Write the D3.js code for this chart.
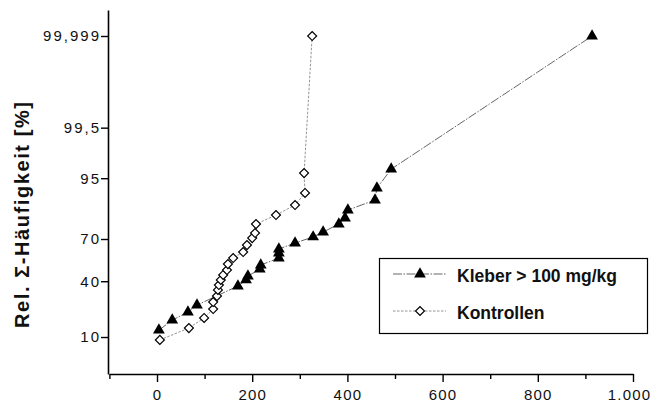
<!DOCTYPE html>
<html>
<head>
<meta charset="utf-8">
<script src="https://cdn.jsdelivr.net/npm/d3@7"></script>
<style>
  body { margin: 0; background: #fff; }
  svg { display: block; font-family: "Liberation Sans", Arial, sans-serif; }
</style>
</head>
<body>
<svg id="chart" width="653" height="403"></svg>
<script>
// Kleber > 100 mg/kg : concentration vs. cumulative percentage
const kleberX = [4, 32, 65, 84, 170, 187, 191, 216, 218, 256, 256, 256, 290, 328, 349, 382, 395, 401, 458, 462, 492, 914];
const kleberP = [12.4, 16.6, 20.6, 24.4, 36.6, 40.9, 43.7, 48.8, 51.8, 56.9, 60.5, 63.3, 67.4, 71.3, 74.3, 78.8, 81.9, 85.5, 89.3, 92.8, 96.5, 99.999];

// Kontrollen
const kontrollenX = [6, 67, 99, 118, 118, 126, 128, 130, 134, 139, 147, 149, 160, 181, 189, 200, 206, 208, 250, 290, 311, 309, 326];
const kontrollenP = [9.1, 13.2, 17.6, 22.2, 26.2, 29.9, 33.9, 37.3, 40.9, 44.5, 48.1, 52.5, 56.9, 61.2, 66.0, 70.6, 73.7, 78.8, 83.3, 87.5, 91.5, 95.9, 99.999];

const xTicks = [0, 200, 400, 600, 800, 1000];
const xMinorTicks = [-100, 100, 300, 500, 700, 900];
const yTicks = [10, 40, 70, 95, 99.5, 99.999];
const seriesNames = ["Kleber > 100 mg/kg", "Kontrollen"];
const yTitle = "Rel. \u03a3-H\u00e4ufigkeit [%]";

// inverse normal cdf (Acklam)
function probit(p) {
  const a = [-39.69683028665376, 220.9460984245205, -275.9285104469687, 138.3577518672690, -30.66479806614716, 2.506628277459239];
  const b = [-54.47609879822406, 161.5858368580409, -155.6989798598866, 66.80131188771972, -13.28068155288572];
  const c = [-0.007784894002430293, -0.3223964580411365, -2.400758277161838, -2.549732539343734, 4.374664141464968, 2.938163982698783];
  const d = [0.007784695709041462, 0.3224671290700398, 2.445134137142996, 3.754408661907416];
  const pl = 0.02425;
  let q, r;
  if (p < pl) {
    q = Math.sqrt(-2 * Math.log(p));
    return (((((c[0]*q+c[1])*q+c[2])*q+c[3])*q+c[4])*q+c[5]) / ((((d[0]*q+d[1])*q+d[2])*q+d[3])*q+1);
  } else if (p <= 1 - pl) {
    q = p - 0.5; r = q * q;
    return (((((a[0]*r+a[1])*r+a[2])*r+a[3])*r+a[4])*r+a[5])*q / (((((b[0]*r+b[1])*r+b[2])*r+b[3])*r+b[4])*r+1);
  } else {
    q = Math.sqrt(-2 * Math.log(1 - p));
    return -(((((c[0]*q+c[1])*q+c[2])*q+c[3])*q+c[4])*q+c[5]) / ((((d[0]*q+d[1])*q+d[2])*q+d[3])*q+1);
  }
}
const pz = (pct) => probit(pct / 100);

const de = d3.formatLocale({ decimal: ",", thousands: ".", grouping: [3], currency: ["", " \u20ac"] });
const fmtX = de.format(",");
const fmtY = de.format("~f");

const svg = d3.select("#chart");

const x = d3.scaleLinear().domain([-100, 1000]).range([109.4, 633]);
const y = d3.scaleLinear().domain([-1.963, 4.744]).range([374, 10]);

// axes
svg.append("g")
  .attr("class", "xaxis")
  .attr("transform", "translate(0,374)")
  .call(d3.axisBottom(x).tickValues(xTicks).tickFormat(fmtX).tickSize(8).tickSizeOuter(0).tickPadding(7));
svg.append("g")
  .attr("transform", "translate(0,374)")
  .call(d3.axisBottom(x).tickValues(xMinorTicks).tickFormat("").tickSize(5).tickSizeOuter(0))
  .select(".domain").remove();

svg.append("g")
  .attr("class", "yaxis")
  .attr("transform", "translate(108,0)")
  .call(d3.axisLeft(y).tickValues(yTicks.map(pz)).tickFormat((d, i) => fmtY(yTicks[i])).tickSize(7).tickSizeOuter(0).tickPadding(0));

svg.selectAll(".domain").attr("stroke", "#000").attr("stroke-width", 1.6);
svg.selectAll(".tick line").attr("stroke", "#000").attr("stroke-width", 1.4);
svg.selectAll(".tick text")
  .attr("font-size", 15)
  .attr("font-family", "'Liberation Sans', Arial, sans-serif")
  .attr("fill", "#111");
svg.selectAll(".xaxis .tick text").style("letter-spacing", "1.2px");
svg.selectAll(".yaxis .tick text").style("letter-spacing", "2px");
svg.selectAll(".xaxis .tick:last-of-type text").attr("dx", -4);

// y title
svg.append("text")
  .attr("transform", "translate(29,215) rotate(-90)")
  .attr("text-anchor", "middle")
  .attr("font-size", 20)
  .attr("font-weight", "bold")
  .attr("fill", "#111")
  .attr("textLength", 226)
  .attr("lengthAdjust", "spacing")
  .text(yTitle);

const series = [
  { name: seriesNames[0], xs: kleberX, ps: kleberP, dash: "9,1.5,1.5,1.5", color: "#555", sym: "tri" },
  { name: seriesNames[1], xs: kontrollenX, ps: kontrollenP, dash: "2.5,1.5", color: "#888", sym: "dia" }
];

const triPath = d3.symbol().type(d3.symbolTriangle).size(60)();
const diaPath = d3.symbol().type(d3.symbolSquare).size(40)();

function drawMarker(g, kind, cx, cy) {
  if (kind === "tri") {
    g.append("path").attr("d", triPath)
      .attr("transform", `translate(${cx},${cy})`)
      .attr("fill", "#000");
  } else {
    g.append("path").attr("d", diaPath)
      .attr("transform", `translate(${cx},${cy}) rotate(45)`)
      .attr("fill", "#fff").attr("stroke", "#000").attr("stroke-width", 1.2);
  }
}

const line = d3.line().x(d => x(d[0])).y(d => y(pz(d[1])));

series.forEach((s) => {
  const pts = s.xs.map((v, i) => [v, s.ps[i]]);
  svg.append("path")
    .datum(pts)
    .attr("d", line)
    .attr("fill", "none")
    .attr("stroke", s.color)
    .attr("stroke-width", 0.9)
    .attr("stroke-dasharray", s.dash);
  const g = svg.append("g");
  pts.forEach((p) => drawMarker(g, s.sym, x(p[0]), y(pz(p[1]))));
});

// legend
const leg = svg.append("g");
leg.append("rect")
  .attr("x", 379.5).attr("y", 258.5)
  .attr("width", 268).attr("height", 75)
  .attr("fill", "#fff").attr("stroke", "#000").attr("stroke-width", 1.2);
series.forEach((s, i) => {
  const ly = 274 + i * 37;
  leg.append("line")
    .attr("x1", 393).attr("x2", 446).attr("y1", ly).attr("y2", ly)
    .attr("stroke", s.color).attr("stroke-width", 0.9)
    .attr("stroke-dasharray", s.dash);
  drawMarker(leg, s.sym, 420, ly);
  leg.append("text")
    .attr("x", 457).attr("y", ly + 8)
    .attr("font-size", 17.5)
    .attr("font-weight", "bold")
    .attr("fill", "#111")
    .text(s.name);
});
</script>
</body>
</html>
